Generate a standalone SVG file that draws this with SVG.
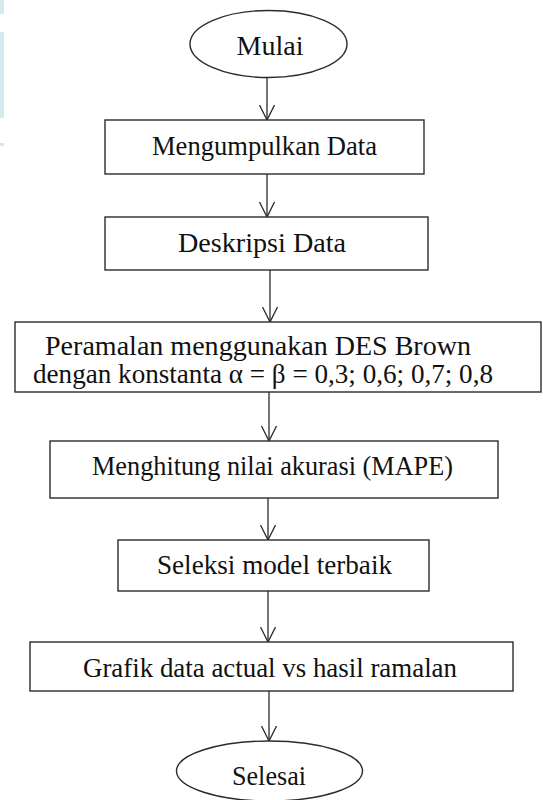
<svg xmlns="http://www.w3.org/2000/svg" width="543" height="800" viewBox="0 0 543 800">
<style>
.shape{fill:#fff;stroke:#2b2b2b;stroke-width:1.4}
.lbl{font-family:"Liberation Serif","Times New Roman",serif;font-size:28px;fill:#111;text-anchor:middle}
.conn{stroke:#2b2b2b;stroke-width:1.3;fill:none;marker-end:url(#open)}
.bg{fill:#d3e9ee}
</style>
<defs>
<marker id="open" markerUnits="userSpaceOnUse" markerWidth="20" markerHeight="20" refX="15" refY="8" orient="auto">
<path d="M0,0.5 L15,8 L0,15.5" fill="none" stroke="#2b2b2b" stroke-width="1.3"/>
</marker>
</defs>
<rect width="543" height="800" fill="#fff"/>
<rect class="bg" x="0" y="0" width="4" height="14"/>
<rect class="bg" x="0" y="32" width="4" height="86"/>
<rect class="bg" x="0" y="143" width="4" height="3"/>
<g id="connectors">
<line class="conn" x1="267" y1="77" x2="267" y2="120"/>
<line class="conn" x1="267" y1="174" x2="267" y2="217"/>
<line class="conn" x1="270" y1="270" x2="270" y2="322"/>
<line class="conn" x1="269" y1="392" x2="269" y2="441"/>
<line class="conn" x1="268" y1="498" x2="268" y2="540"/>
<line class="conn" x1="268" y1="591" x2="268" y2="642"/>
<line class="conn" x1="269" y1="691" x2="269" y2="741"/>
</g>
<g id="mulai">
<ellipse class="shape" cx="268.5" cy="44" rx="78.5" ry="33.5"/>
<text class="lbl" x="270" y="55" font-size="30" textLength="67" lengthAdjust="spacingAndGlyphs">Mulai</text>
</g>
<g id="mengumpulkan">
<rect class="shape" x="105" y="120" width="319" height="54"/>
<text class="lbl" x="264.5" y="155" textLength="225" lengthAdjust="spacingAndGlyphs">Mengumpulkan Data</text>
</g>
<g id="deskripsi">
<rect class="shape" x="105" y="217" width="323" height="53"/>
<text class="lbl" x="262" y="252" textLength="168" lengthAdjust="spacingAndGlyphs">Deskripsi Data</text>
</g>
<g id="peramalan">
<rect class="shape" x="15" y="322" width="526" height="70"/>
<text class="lbl" x="258" y="355" textLength="426" lengthAdjust="spacingAndGlyphs">Peramalan menggunakan DES Brown</text>
<text class="lbl" x="263" y="383" textLength="460" lengthAdjust="spacingAndGlyphs">dengan konstanta α = β = 0,3; 0,6; 0,7; 0,8</text>
</g>
<g id="menghitung">
<rect class="shape" x="50" y="441" width="448" height="57"/>
<text class="lbl" x="272.5" y="475" textLength="361" lengthAdjust="spacingAndGlyphs">Menghitung nilai akurasi (MAPE)</text>
</g>
<g id="seleksi">
<rect class="shape" x="118" y="540" width="311" height="51"/>
<text class="lbl" x="274.5" y="574" textLength="235" lengthAdjust="spacingAndGlyphs">Seleksi model terbaik</text>
</g>
<g id="grafik">
<rect class="shape" x="30" y="642" width="483" height="49"/>
<text class="lbl" x="270" y="677" textLength="374" lengthAdjust="spacingAndGlyphs">Grafik data actual vs hasil ramalan</text>
</g>
<g id="selesai">
<ellipse class="shape" cx="269.5" cy="771" rx="93" ry="30"/>
<text class="lbl" x="269" y="785" textLength="74" lengthAdjust="spacingAndGlyphs">Selesai</text>
</g>
</svg>
